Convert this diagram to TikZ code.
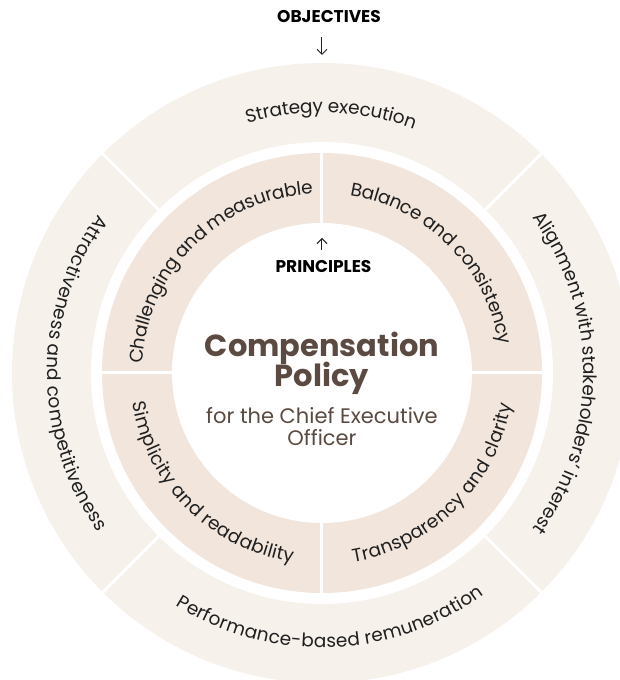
\documentclass[tikz,border=0pt]{standalone}
\usepackage{fontspec}
\setmainfont{Poppins}
\usepackage{xcolor}
\usepackage{tikz}
\usetikzlibrary{decorations.text}
\usetikzlibrary{arrows.meta}
\definecolor{ringout}{HTML}{F6F1EB}
\definecolor{ringin}{HTML}{F1E5DC}
\definecolor{brownink}{HTML}{5B4A41}
\definecolor{darkink}{HTML}{1F1F1F}
\def\ringfont{\fontsize{18.5}{21}\selectfont}
\tikzset{
	ringlabel/.style={decorate,decoration={text along path,text={|\ringfont|#1},text align=center,raise=-5.5pt,text color=darkink}},
	gapline/.style={white,line width=3pt},
	pointer/.style={-{Straight Barb[length=5pt,width=10pt]},darkink,line width=1pt},
	headfont/.style={font=\fontsize{17}{17}\selectfont\bfseries,text=black,inner sep=0pt,anchor=base},
	titlefont/.style={font=\fontsize{30.5}{30}\selectfont\bfseries,text=brownink,inner sep=0pt,anchor=base},
	subfont/.style={font=\fontsize{21}{22}\selectfont,text=brownink,inner sep=0pt,anchor=base}
}

\begin{document}
\begin{tikzpicture}[x=1pt,y=1pt]
					\useasboundingbox (-322,-307) rectangle (297,373);
					\fill[ringout] (0,0) circle (310);
					\fill[white] (0,0) circle (231);
					\fill[ringin] (0,0) circle (220);
					\fill[white] (0,0) circle (150);
					\foreach \a in {45,135,225,315}
						\draw[gapline] (\a:229) -- (\a:312);
					\foreach \a in {0,90,180,270}
						\draw[gapline] (\a:149) -- (\a:221);
					\path[ringlabel={Strategy execution}] (133:266) arc[start angle=133,end angle=43,radius=266];
					\path[ringlabel={Alignment with stakeholders' interest}] (45:267) arc[start angle=45,end angle=-45,radius=267];
					\path[ringlabel={Performance-based remuneration}] (227:269) arc[start angle=227,end angle=317,radius=269];
					\path[ringlabel={Attractiveness and competitiveness}] (135:269) arc[start angle=135,end angle=225,radius=269];
					\path[ringlabel={Challenging and measurable}] (180:185) arc[start angle=180,end angle=90,radius=185];
					\path[ringlabel={Balance and consistency}] (90:185) arc[start angle=90,end angle=0,radius=185];
					\path[ringlabel={Transparency and clarity}] (270:186) arc[start angle=270,end angle=360,radius=186];
					\path[ringlabel={Simplicity and readability}] (180:186) arc[start angle=180,end angle=270,radius=186];
					\node[headfont] (objectives) at (7,350) {OBJECTIVES};
					\coordinate (objtip) at (0,318);
					\draw[pointer,shorten <=14pt] (objectives.south -| objtip) -- (objtip);
					\node[headfont] (principles) at (1.5,100) {PRINCIPLES};
					\coordinate (printip) at (0,135);
					\draw[pointer,shorten <=11pt] (principles.north -| printip) -- (printip);
					\node[titlefont] (comp) at (0,16) {Compensation};
					\node[titlefont] (policy) at (0,-14) {Policy};
					\node[subfont] (forceo) at (0,-50) {for the Chief Executive};
					\node[subfont] (officer) at (0,-72) {Officer};
				\end{tikzpicture}
\end{document}
